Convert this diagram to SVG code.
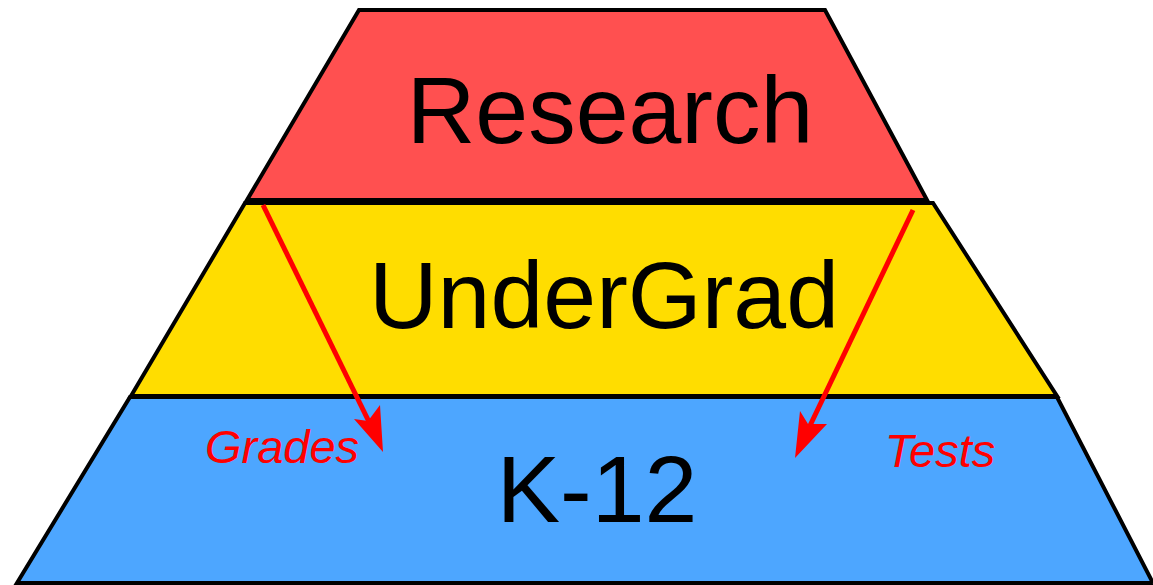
<svg xmlns="http://www.w3.org/2000/svg" width="1153" height="585" viewBox="0 0 1153 585">
<defs>
<style>
.tier{stroke:#000;stroke-width:4;stroke-linejoin:miter}
.big{font-family:"Liberation Sans",Arial,sans-serif;font-size:95px;fill:#000;text-anchor:middle}
.lbl{font-family:"Liberation Sans",Arial,sans-serif;font-size:47px;font-style:italic;fill:#FF0000;text-anchor:middle}
.arr{stroke:#FF0000;stroke-width:5;fill:none}
.head{fill:#FF0000}
</style>
</defs>
<rect width="1153" height="585" fill="#fff"/>
<g id="k12">
<polygon class="tier" points="130,397 1057,397 1153,583 17,583" fill="#4DA6FF"/>
<text class="big" x="597" y="522">K-12</text>
</g>
<g id="undergrad">
<polygon class="tier" points="245,203 933,203 1057,396 131,396" fill="#FFDD00"/>
<text class="big" x="604" y="328">UnderGrad</text>
</g>
<g id="research">
<polygon class="tier" points="359,10 825,10 927,200 247,200" fill="#FF5050"/>
<text class="big" x="610" y="143">Research</text>
</g>
<g id="connectors">
<line class="arr" x1="263" y1="205" x2="372" y2="428"/>
<polygon class="head" points="383,452 354,419 368,421 380,405"/>
<line class="arr" x1="913" y1="210" x2="806" y2="434"/>
<polygon class="head" points="795,458 800,411 808,424 827,424"/>
</g>
<g id="labels">
<text class="lbl" x="282" y="463">Grades</text>
<text class="lbl" x="940" y="467">Tests</text>
</g>
</svg>
